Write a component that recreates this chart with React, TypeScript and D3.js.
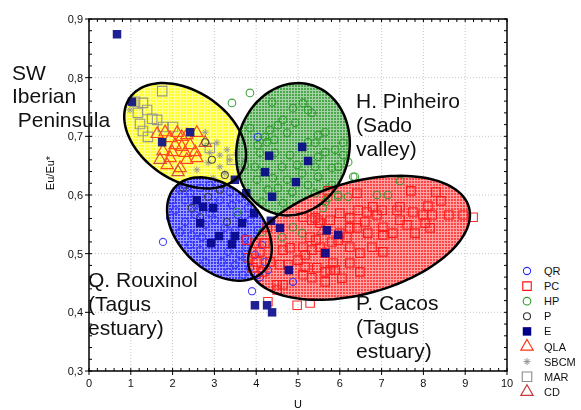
import React from 'react';
import * as d3 from 'd3';

type Pt = [number, number];

// U, Eu/Eu*
const QR: Pt[] = [
  [1.77, 0.52], [3.9, 0.436], [4.88, 0.452], [4.04, 0.699], [4.09, 0.46],
  [2.18, 0.609], [2.42, 0.603], [2.66, 0.612], [2.89, 0.617], [3.37, 0.605], [3.61, 0.595],
  [2.3, 0.591], [2.54, 0.566], [2.89, 0.569], [3.13, 0.591], [3.42, 0.583], [3.8, 0.578],
  [2.06, 0.574], [2.3, 0.554], [2.78, 0.549], [3.01, 0.557], [3.56, 0.566], [3.85, 0.557],
  [4.04, 0.54], [2.18, 0.537], [2.46, 0.532], [2.7, 0.528], [3.25, 0.544], [3.49, 0.54],
  [3.73, 0.527], [4.14, 0.515], [2.42, 0.515], [2.66, 0.506], [3.01, 0.51], [3.33, 0.503],
  [3.61, 0.498], [3.97, 0.498], [4.21, 0.486], [2.78, 0.486], [3.18, 0.486], [3.49, 0.481],
  [3.85, 0.476], [3.68, 0.464], [3.33, 0.469], [4.04, 0.464], [4.28, 0.472], [2.94, 0.52],
  [1.94, 0.561], [2.54, 0.583], [3.76, 0.511], [1.99, 0.591],
];

const PC: Pt[] = [
  [7.7, 0.607], [8.3, 0.605], [8.42, 0.59], [8.61, 0.566], [8.95, 0.566], [9.19, 0.562],
  [7.99, 0.566], [8.21, 0.566], [8.04, 0.552], [7.75, 0.571], [7.44, 0.557], [7.37, 0.574],
  [7.01, 0.574], [6.79, 0.58], [6.65, 0.571], [6.44, 0.574], [6.24, 0.561], [6.0, 0.569],
  [6.24, 0.544], [5.77, 0.557], [5.48, 0.557], [5.33, 0.557], [5.12, 0.562], [6.6, 0.554],
  [6.89, 0.566], [7.03, 0.545], [7.27, 0.535], [7.61, 0.549], [7.8, 0.535], [7.03, 0.532],
  [6.67, 0.535], [6.41, 0.544], [6.17, 0.528], [6.77, 0.511], [7.03, 0.503], [6.48, 0.501],
  [6.24, 0.511], [5.96, 0.523], [5.81, 0.52], [6.24, 0.484], [6.48, 0.469], [5.84, 0.484],
  [5.65, 0.501], [5.33, 0.506], [5.12, 0.511], [5.53, 0.511], [5.0, 0.489], [4.81, 0.51],
  [4.64, 0.506], [4.33, 0.486], [4.57, 0.481], [4.76, 0.481], [5.45, 0.476], [5.65, 0.469],
  [5.77, 0.472], [5.12, 0.464], [4.64, 0.447], [4.5, 0.447], [4.98, 0.412], [5.29, 0.416],
  [6.05, 0.458], [5.89, 0.472], [5.33, 0.459], [5.65, 0.452], [7.44, 0.58], [5.72, 0.607],
  [6.41, 0.603], [5.43, 0.523], [5.29, 0.528], [5.53, 0.552], [5.41, 0.561], [5.17, 0.498],
  [5.17, 0.477], [3.78, 0.523], [3.97, 0.518], [4.21, 0.518], [4.09, 0.503], [4.02, 0.486],
  [3.8, 0.493], [4.16, 0.469], [3.92, 0.476], [4.26, 0.545], [4.28, 0.418], [4.5, 0.438],
  [6.0, 0.535], [8.16, 0.544], [8.11, 0.581],
];

const HP: Pt[] = [
  [3.85, 0.774], [3.42, 0.757], [4.38, 0.758], [5.12, 0.757], [4.88, 0.748], [5.24, 0.745],
  [5.33, 0.74], [4.64, 0.728], [4.93, 0.723], [4.52, 0.719], [3.85, 0.714], [4.33, 0.711],
  [4.74, 0.706], [4.21, 0.699], [4.26, 0.69], [4.43, 0.694], [5.48, 0.702], [5.65, 0.707],
  [5.24, 0.69], [5.41, 0.689], [6.08, 0.689], [5.89, 0.677], [4.04, 0.685], [4.09, 0.672],
  [4.45, 0.672], [4.81, 0.668], [5.48, 0.665], [5.65, 0.673], [4.62, 0.648], [4.98, 0.651],
  [5.41, 0.648], [5.81, 0.646], [5.96, 0.648], [6.2, 0.656], [6.32, 0.631], [3.97, 0.648],
  [3.73, 0.651], [4.4, 0.629], [4.74, 0.626], [5.1, 0.637], [5.48, 0.631], [4.02, 0.626],
  [5.81, 0.617], [4.28, 0.609], [4.52, 0.612], [4.86, 0.605], [5.41, 0.603], [5.65, 0.588],
  [5.96, 0.6], [4.14, 0.588], [4.64, 0.586], [5.24, 0.617], [6.08, 0.668],
  [7.44, 0.624], [7.15, 0.6], [6.89, 0.6], [6.2, 0.597], [5.96, 0.597], [5.72, 0.595],
  [5.6, 0.578], [5.1, 0.535], [4.88, 0.545], [4.62, 0.528], [6.36, 0.631], [3.54, 0.571],
  [4.14, 0.537],
];

const P: Pt[] = [
  [2.78, 0.69], [2.94, 0.66], [2.46, 0.578], [2.66, 0.562], [3.3, 0.554], [2.85, 0.597],
  [3.13, 0.609], [2.25, 0.612], [3.25, 0.634],
];

const E: Pt[] = [
  [0.67, 0.874], [1.03, 0.759], [1.75, 0.69], [2.42, 0.707], [3.49, 0.626], [4.31, 0.667],
  [5.1, 0.682], [5.24, 0.658], [4.21, 0.639], [4.95, 0.622], [4.38, 0.597], [3.76, 0.603],
  [2.58, 0.591], [2.73, 0.58], [2.97, 0.578], [2.66, 0.552], [3.11, 0.53], [2.92, 0.518],
  [3.42, 0.516], [3.49, 0.53], [3.66, 0.552], [3.95, 0.569], [4.35, 0.556], [4.57, 0.544],
  [5.69, 0.54], [5.96, 0.532], [5.65, 0.501], [4.78, 0.472], [3.97, 0.412], [4.26, 0.412],
  [4.38, 0.4],
];

const QLA: Pt[] = [
  [1.63, 0.704], [1.82, 0.707], [1.94, 0.697], [2.11, 0.706], [2.22, 0.699], [2.34, 0.702],
  [2.58, 0.706], [2.06, 0.685], [2.22, 0.682], [2.42, 0.685], [1.99, 0.673], [2.3, 0.672],
  [2.54, 0.673], [2.58, 0.663], [1.87, 0.651], [2.18, 0.646], [1.94, 0.663], [2.34, 0.66],
  [1.77, 0.675],
];

const SBCM: Pt[] = [
  [2.78, 0.707], [3.06, 0.689], [2.89, 0.672], [3.13, 0.668], [3.3, 0.677], [2.85, 0.655],
  [3.13, 0.648], [3.37, 0.66], [3.54, 0.672], [2.58, 0.643], [3.25, 0.637], [0.98, 0.745],
  [2.97, 0.629], [3.61, 0.643], [3.73, 0.66],
];

const MAR: Pt[] = [
  [1.75, 0.777], [1.1, 0.759], [1.29, 0.757], [1.17, 0.74], [1.39, 0.745], [1.51, 0.73],
  [1.22, 0.721], [1.29, 0.709], [1.41, 0.699], [1.77, 0.716], [2.01, 0.716], [1.63, 0.728],
  [2.89, 0.68], [3.42, 0.66],
];

const CD: Pt[] = [[2.78, 0.689], [1.7, 0.66], [5.6, 0.539], [2.13, 0.639]];

// confidence ellipses: centre, semi-axis vectors (data units)
const ellipseIds = ['yellow', 'green', 'blue', 'red'];
const ellipseCenters: Pt[] = [[2.3, 0.701], [4.88, 0.678], [3.12, 0.542], [6.46, 0.527]];
const ellipseMajor: Pt[] = [[1.33, -0.064], [0.414, 0.11], [1.05, -0.0723], [2.629, 0.052]];
const ellipseMinor: Pt[] = [[-0.596, -0.063], [1.294, -0.0247], [-0.682, -0.0503], [0.359, -0.092]];

const xTicks = [0, 1, 2, 3, 4, 5, 6, 7, 8, 9, 10];
const yTicks = [0.3, 0.4, 0.5, 0.6, 0.7, 0.8, 0.9];
const legendLabels = ['QR', 'PC', 'HP', 'P', 'E', 'QLA', 'SBCM', 'MAR', 'CD'];

const W = 581;
const H = 410;
const x = d3.scaleLinear().domain([0, 10]).range([89, 507]);
const y = d3.scaleLinear().domain([0.3, 0.9]).range([371, 19]);

const fillColors: Record<string, string> = {
  yellow: '#ffff00',
  green: '#249424',
  blue: '#1010ff',
  red: '#ff1e1e',
};

const sq = (s: number) => d3.symbol(d3.symbolSquare, s * s)()!;
const circ = (r: number) => d3.symbol(d3.symbolCircle, Math.PI * r * r)()!;
const tri = (s: number) => d3.symbol(d3.symbolTriangle, s)()!;
const asterisk = 'M-3.5,0H3.5M0,-3.5V3.5M-2.5,-2.5L2.5,2.5M-2.5,2.5L2.5,-2.5';

type Style = { d: string; stroke: string; fill: string; sw: number };
const styles: Record<string, Style> = {
  QR: { d: circ(3.6), stroke: '#2f2fff', fill: 'none', sw: 1.1 },
  PC: { d: sq(8.5), stroke: '#ff1010', fill: 'none', sw: 1.1 },
  HP: { d: circ(3.8), stroke: '#2a9a2a', fill: 'none', sw: 1.1 },
  P: { d: circ(3.5), stroke: '#333333', fill: 'none', sw: 1.1 },
  E: { d: sq(8.5), stroke: '#000088', fill: '#000088', sw: 0 },
  QLA: { d: tri(65), stroke: '#ff3010', fill: 'none', sw: 1.2 },
  SBCM: { d: asterisk, stroke: '#909090', fill: 'none', sw: 1 },
  MAR: { d: sq(9.5), stroke: '#8a8a8a', fill: 'none', sw: 1.1 },
  CD: { d: tri(65), stroke: '#c83838', fill: 'none', sw: 1.2 },
};

const seriesOrder: [string, Pt[]][] = [
  ['MAR', MAR], ['SBCM', SBCM], ['QLA', QLA], ['CD', CD], ['P', P],
  ['QR', QR], ['HP', HP], ['PC', PC], ['E', E],
];

const ellipsePath = (i: number) => {
  const c = ellipseCenters[i];
  const a = ellipseMajor[i];
  const b = ellipseMinor[i];
  const pts = d3.range(0, 120).map((k) => {
    const t = (k / 120) * Math.PI * 2;
    return [
      c[0] + Math.cos(t) * a[0] + Math.sin(t) * b[0],
      c[1] + Math.cos(t) * a[1] + Math.sin(t) * b[1],
    ] as Pt;
  });
  return d3
    .line<Pt>()
    .x((d) => x(d[0]))
    .y((d) => y(d[1]))
    .curve(d3.curveLinearClosed)(pts)!;
};

const font = '"Liberation Sans", Arial, sans-serif';

const Label = ({ lines, x0, y0 }: { lines: string[]; x0: number; y0: number[] }) => (
  <>
    {lines.map((t, i) => (
      <text key={i} x={x0} y={y0[i]} fontSize={21} fill="#111" style={{ whiteSpace: 'pre' }}>
        {t}
      </text>
    ))}
  </>
);

export default function App() {
  const xMinor = d3.range(0, 10.01, 0.2);
  const yMinor = d3.range(0.3, 0.9001, 0.02);
  return (
    <div style={{ position: 'absolute', left: 0, top: 0 }}>
      <svg width={W} height={H} style={{ display: 'block', fontFamily: font, background: '#fff' }}>
        <defs>
          {ellipseIds.map((id) => (
            <pattern key={id} id={`mesh-${id}`} width={3} height={3} patternUnits="userSpaceOnUse">
              <rect width={3} height={3} fill={fillColors[id]} />
              <path d="M0,0.5H3M0.5,0V3" stroke="#fff" strokeWidth={1} opacity={0.5} />
            </pattern>
          ))}
        </defs>

        {/* grid */}
        <g stroke="#c8c8c8" strokeWidth={1} strokeDasharray="1,2">
          {xTicks.slice(1, -1).map((t) => (
            <line key={t} x1={x(t)} x2={x(t)} y1={y(0.9)} y2={y(0.3)} />
          ))}
          {yTicks.slice(1, -1).map((t) => (
            <line key={t} x1={x(0)} x2={x(10)} y1={y(t)} y2={y(t)} />
          ))}
        </g>

        {/* ellipse fills */}
        <g opacity={0.82}>
          {ellipseIds.map((id, i) => (
            <path key={id} d={ellipsePath(i)} fill={`url(#mesh-${id})`} />
          ))}
        </g>

        {/* points */}
        <g opacity={0.88}>
          {seriesOrder.map(([name, pts]) => {
            const s = styles[name];
            return (
              <g key={name}>
                {pts.map((p, i) => (
                  <path
                    key={i}
                    d={s.d}
                    transform={`translate(${x(p[0])},${y(p[1])})`}
                    stroke={s.stroke}
                    fill={s.fill}
                    strokeWidth={s.sw}
                  />
                ))}
              </g>
            );
          })}
        </g>

        <g fill="none" stroke="#000" strokeWidth={2.5}>
          {ellipseIds.map((id, i) => (
            <path key={id} d={ellipsePath(i)} />
          ))}
        </g>

        {/* frame and ticks */}
        <rect x={x(0)} y={y(0.9)} width={x(10) - x(0)} height={y(0.3) - y(0.9)} fill="none" stroke="#000" strokeWidth={1.5} />
        <g stroke="#000" strokeWidth={1}>
          {xMinor.map((t, i) => (
            <g key={i}>
              <line x1={x(t)} x2={x(t)} y1={y(0.3)} y2={y(0.3) - 3} />
              <line x1={x(t)} x2={x(t)} y1={y(0.9)} y2={y(0.9) + 3} />
            </g>
          ))}
          {yMinor.map((t, i) => (
            <g key={i}>
              <line x1={x(0)} x2={x(0) + 3} y1={y(t)} y2={y(t)} />
              <line x1={x(10)} x2={x(10) - 3} y1={y(t)} y2={y(t)} />
            </g>
          ))}
          {xTicks.map((t) => (
            <line key={t} x1={x(t)} x2={x(t)} y1={y(0.3)} y2={y(0.3) + 4} />
          ))}
          {yTicks.map((t) => (
            <line key={t} x1={x(0) - 4} x2={x(0)} y1={y(t)} y2={y(t)} />
          ))}
        </g>
        <g fontSize={11} fill="#111">
          {xTicks.map((t) => (
            <text key={t} x={x(t)} y={y(0.3) + 16} textAnchor="middle">
              {t}
            </text>
          ))}
          {yTicks.map((t) => (
            <text key={t} x={x(0) - 6} y={y(t) + 4} textAnchor="end">
              {d3.format('.1f')(t).replace('.', ',')}
            </text>
          ))}
        </g>
        <text x={x(5)} y={408} fontSize={11} textAnchor="middle">U</text>
        <text transform="translate(54,173) rotate(-90)" fontSize={11} textAnchor="middle">Eu/Eu*</text>

        {/* annotations */}
        <Label lines={['SW', 'Iberian', ' Peninsula']} x0={12} y0={[80, 103, 127]} />
        <Label lines={['H. Pinheiro', '(Sado', 'valley)']} x0={356} y0={[108, 132, 156]} />
        <Label lines={['Q. Rouxinol', '(Tagus', 'estuary)']} x0={88} y0={[287, 311, 335]} />
        <Label lines={['P. Cacos', '(Tagus', 'estuary)']} x0={356} y0={[310, 334, 358]} />

        {/* legend */}
        {legendLabels.map((name, i) => {
          const s = styles[name];
          const ly = 271 + i * 15.1;
          return (
            <g key={name}>
              <path d={s.d} transform={`translate(527,${ly})`} stroke={s.stroke} fill={s.fill} strokeWidth={s.sw} />
              <text x={544} y={ly + 4} fontSize={11} fill="#111">{name}</text>
            </g>
          );
        })}
      </svg>
    </div>
  );
}
